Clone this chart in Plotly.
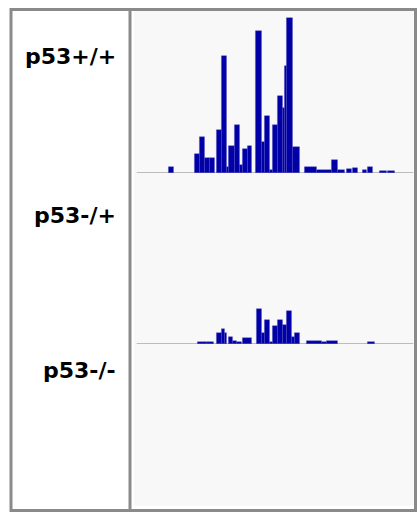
import plotly.graph_objects as go

# Coverage segments across the locus window (relative position units).
# Each entry: segment start, segment end, read depth.
track1_start = [32, 58, 63, 68, 73, 80, 85, 90, 92, 98, 103, 106, 111, 119, 125, 128, 133, 136,
                141, 146, 148, 150, 156, 168, 180, 195, 201, 210, 216, 226, 231, 243, 251]
track1_end = [37, 63, 68, 73, 78, 85, 90, 92, 98, 103, 106, 111, 115, 125, 128, 133, 136, 141,
              146, 148, 150, 156, 163, 180, 195, 201, 208, 215, 221, 230, 236, 250, 258]
track1_depth = [6, 19, 36, 15, 15, 43, 117, 6, 27, 48, 8, 24, 27, 142, 31, 57, 3, 48,
                77, 65, 107, 155, 26, 6, 3, 13, 3, 4, 5, 3, 6, 2, 2]

track2_start = [61, 70, 80, 85, 88, 92, 96, 100, 106, 120, 125, 128, 133, 136, 141, 146, 150,
                155, 158, 170, 185, 190, 231]
track2_end = [70, 77, 85, 88, 90, 96, 100, 105, 115, 125, 128, 133, 136, 141, 146, 150, 155,
              158, 163, 185, 190, 201, 238]
track2_depth = [2.5, 2, 11, 15, 11, 7, 3, 2, 6, 35, 11, 24, 2, 18, 24, 19, 33,
                7, 11, 3, 2.5, 3, 2]

track3_start = []
track3_end = []
track3_depth = []

sample_labels = ["p53+/+", "p53-/+", "p53-/-"]

W, H = 420, 514
BAR_COLOR = "#0000a6"
BAR_EDGE = "rgba(70,70,190,0.85)"
BORDER = "#8a8a8a"


def px(x):
    return x / W


def py(y):
    return 1 - y / H


def bars(starts, ends, depth, axis_idx):
    centers = [(s + e) / 2 for s, e in zip(starts, ends)]
    widths = [e - s for s, e in zip(starts, ends)]
    sfx = "" if axis_idx == 1 else str(axis_idx)
    return go.Bar(
        x=centers, y=depth, width=widths,
        marker=dict(color=BAR_COLOR, line=dict(width=0.5, color=BAR_EDGE)),
        xaxis="x" + sfx, yaxis="y" + sfx,
        showlegend=False, hoverinfo="skip",
    )


fig = go.Figure()
fig.add_trace(bars(track1_start, track1_end, track1_depth, 1))
fig.add_trace(bars(track2_start, track2_end, track2_depth, 2))
fig.add_trace(bars(track3_start, track3_end, track3_depth, 3))

x_dom = [px(136.7), px(413.3)]
x_rng = [0, 276.6]
hidden = dict(showgrid=False, zeroline=False, showticklabels=False, ticks="", showline=False)

# track vertical extents in pixels (top, baseline)
tracks = [(13, 173), (184, 344), (345, 505)]

layout_axes = {}
for i, (top, base) in enumerate(tracks, start=1):
    sfx = "" if i == 1 else str(i)
    layout_axes["xaxis" + sfx] = dict(domain=x_dom, range=x_rng, anchor="y" + sfx, **hidden)
    layout_axes["yaxis" + sfx] = dict(domain=[py(base), py(top)], range=[0, base - top],
                                      anchor="x" + sfx, **hidden)

shapes = [
    # track panel background
    dict(type="rect", xref="paper", yref="paper", x0=px(134), x1=px(413.5),
         y0=py(505.5), y1=py(11), fillcolor="#f8f8f8", line=dict(width=0), layer="below"),
    # outer frame
    dict(type="rect", xref="paper", yref="paper", x0=px(11), x1=px(415.5),
         y0=py(510.5), y1=py(9.5), line=dict(color=BORDER, width=3)),
    # divider between names and tracks
    dict(type="line", xref="paper", yref="paper", x0=px(130), x1=px(130),
         y0=py(510.5), y1=py(9.5), line=dict(color=BORDER, width=3)),
]
# baselines for the tracks with coverage
for ax in ["y", "y2"]:
    xref = "x" if ax == "y" else "x2"
    shapes.append(dict(type="line", xref=xref + " domain", yref=ax, x0=0, x1=1, y0=0, y1=0,
                       line=dict(color="#a9a9a9", width=1.5), layer="below"))

label_centers = [56, 215.5, 370.5]
annotations = [
    dict(text="<b>%s</b>" % lab, xref="paper", yref="paper", x=px(118), y=py(cy),
         xanchor="right", yanchor="middle", showarrow=False,
         font=dict(family="DejaVu Sans", size=22, color="#000000"))
    for lab, cy in zip(sample_labels, label_centers)
]

fig.update_layout(
    width=W, height=H,
    margin=dict(l=0, r=0, t=0, b=0),
    paper_bgcolor="white", plot_bgcolor="rgba(0,0,0,0)",
    bargap=0, barmode="overlay",
    shapes=shapes, annotations=annotations,
    **layout_axes,
)

fig.write_html("out.html")
